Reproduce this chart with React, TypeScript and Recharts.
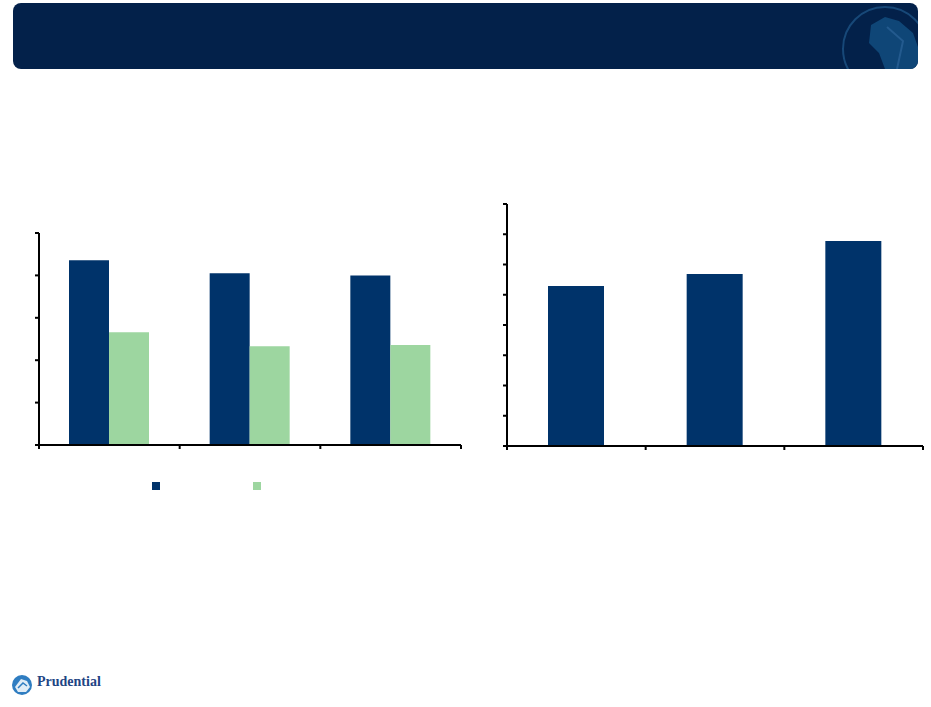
import React from 'react';
import { ComposedChart, Bar, XAxis, YAxis } from 'recharts';

// left chart: two series per category
const leftCategories = ['c1', 'c2', 'c3'];
const leftSeriesA = [4.36, 4.05, 4.0];
const leftSeriesB = [2.66, 2.33, 2.36];
const leftTicks = [0, 1, 2, 3, 4, 5];

// right chart: single series
const rightCategories = ['c1', 'c2', 'c3'];
const rightValues = [5.29, 5.69, 6.78];
const rightTicks = [0, 1, 2, 3, 4, 5, 6, 7, 8];

// category boundaries (Excel-style tick marks between categories)
const boundaryTicks = [0, 1, 2, 3];

const DARK = '#00336A';
const LIGHT = '#9DD6A0';

const legendItems = [
  { key: 'a', color: DARK, left: 152 },
  { key: 'b', color: LIGHT, left: 253 },
];

// category i sits in the middle of slot [i, i+1] on a numeric axis
const leftData = leftCategories.map((c, i) => ({ name: c, x: i + 0.5, a: leftSeriesA[i], b: leftSeriesB[i] }));
const rightData = rightCategories.map((c, i) => ({ name: c, x: i + 0.5, v: rightValues[i] }));

const blank = () => '';
const axisStyle = { stroke: '#000', strokeWidth: 2 };

export default function App() {
  return (
    <div style={{ position: 'absolute', left: 0, top: 0, width: 931, height: 707, background: '#fff', overflow: 'hidden' }}>
      {/* header banner */}
      <div
        style={{
          position: 'absolute', left: 13, top: 3, width: 905, height: 66,
          borderRadius: 8, background: '#03214A', overflow: 'hidden',
        }}
      >
        <svg width={905} height={66} style={{ position: 'absolute', left: 0, top: 0 }}>
          <circle cx={872} cy={46} r={42} fill="none" stroke="#174878" strokeWidth={2} />
          <path d="M858 22 L872 14 L886 18 L900 30 L905 44 L905 66 L872 66 L866 50 L856 40 Z" fill="#0F4677" />
          <path d="M874 24 L890 38 L884 66" fill="none" stroke="#235A8E" strokeWidth={2} />
        </svg>
      </div>

      {/* left chart */}
      <div style={{ position: 'absolute', left: 0, top: 0 }}>
        <ComposedChart
          width={480}
          height={500}
          data={leftData}
          margin={{ top: 233, left: 38, right: 19, bottom: 54 }}
          barGap={0}
        >
          <XAxis
            dataKey="x"
            type="number"
            domain={[0, 3]}
            allowDataOverflow
            ticks={boundaryTicks}
            tickCount={4}
            interval={0}
            height={1}
            tickSize={4}
            tickFormatter={blank}
            axisLine={axisStyle}
            tickLine={axisStyle}
          />
          <YAxis
            width={1}
            domain={[0, 5]}
            ticks={leftTicks}
            interval={0}
            tickSize={4}
            tickFormatter={blank}
            axisLine={axisStyle}
            tickLine={axisStyle}
          />
          <Bar dataKey="a" fill={DARK} barSize={40} isAnimationActive={false} />
          <Bar dataKey="b" fill={LIGHT} barSize={40} isAnimationActive={false} />
        </ComposedChart>
      </div>

      {/* legend swatches */}
      {legendItems.map((it) => (
        <div
          key={it.key}
          style={{ position: 'absolute', left: it.left, top: 482, width: 8, height: 8, background: it.color }}
        />
      ))}

      {/* right chart */}
      <div style={{ position: 'absolute', left: 480, top: 0 }}>
        <ComposedChart
          width={451}
          height={500}
          data={rightData}
          margin={{ top: 204, left: 26, right: 8, bottom: 53 }}
        >
          <XAxis
            dataKey="x"
            type="number"
            domain={[0, 3]}
            allowDataOverflow
            ticks={boundaryTicks}
            tickCount={4}
            interval={0}
            height={1}
            tickSize={4}
            tickFormatter={blank}
            axisLine={axisStyle}
            tickLine={axisStyle}
          />
          <YAxis
            width={1}
            domain={[0, 8]}
            ticks={rightTicks}
            interval={0}
            tickSize={4}
            tickFormatter={blank}
            axisLine={axisStyle}
            tickLine={axisStyle}
          />
          <Bar dataKey="v" fill={DARK} barSize={56} isAnimationActive={false} />
        </ComposedChart>
      </div>

      {/* footer logo */}
      <svg width={24} height={24} style={{ position: 'absolute', left: 11, top: 673 }}>
        <circle cx={11} cy={12} r={10} fill="#2F7DC1" />
        <path d="M4 14 L10 6 L16 8 L19 14 L15 19 L7 19 Z" fill="#fff" opacity={0.85} />
        <path d="M7 15 L12 10 L16 13" fill="none" stroke="#2F7DC1" strokeWidth={1.5} />
      </svg>
      <div
        style={{
          position: 'absolute', left: 37, top: 674, fontFamily: '"Liberation Serif", serif',
          fontWeight: 'bold', fontSize: 14, color: '#1E4584',
        }}
      >
        Prudential
      </div>
    </div>
  );
}
